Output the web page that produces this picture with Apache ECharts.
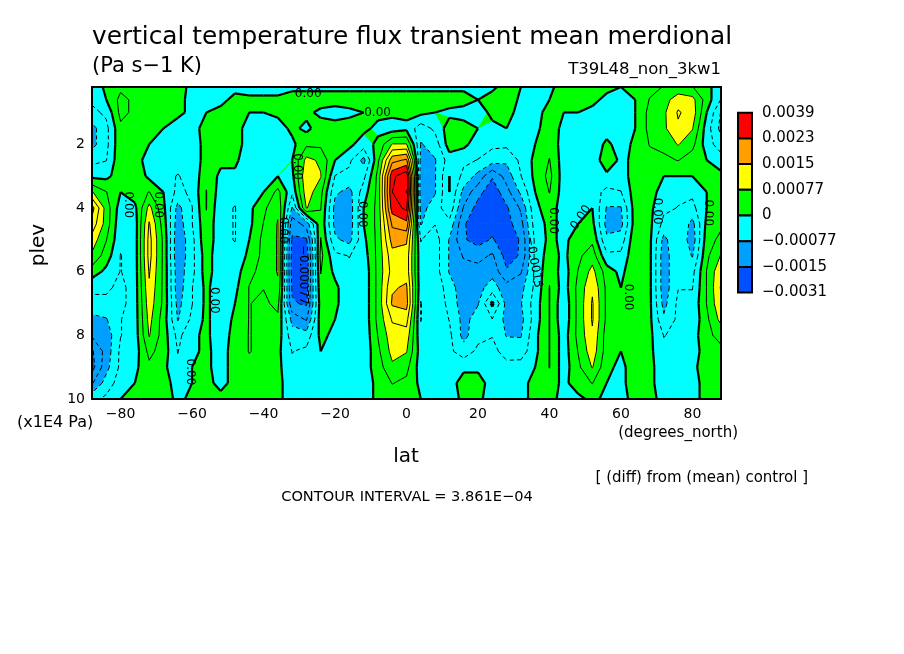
<!DOCTYPE html>
<html lang="en">
<head>
<meta charset="UTF-8">
<title>vertical temperature flux transient mean merdional</title>
<script src="https://cdn.jsdelivr.net/npm/echarts@6.0.0/dist/echarts.min.js"></script>
<style>
  html, body { margin: 0; padding: 0; background: #fff; }
  #main { width: 904px; height: 654px; }
</style>
</head>
<body>
<div id="main"></div>
<script>
// grid nodes
const lats = [-88,-84,-80,-76,-72,-68,-64,-60,-56,-52,-48,-44,-40,-36,-32,-28,-24,-20,-16,-12,-8,-4,
              0,4,8,12,16,20,24,28,32,36,40,44,48,52,56,60,64,68,72,76,80,84,88];
const plevs = [0.2,0.6,1,1.5,2,2.5,3,3.5,4,4.5,5,5.5,6,6.5,7,7.5,8,8.5,9,9.5,10];

// flux in 1E-4 Pa s-1 K, one column per latitude, values top (plev 0.2) to bottom (plev 10)
const fluxCols = [
  [-3,-3,-5,-9,-9,-5,-1,8,17,14,10,7,2,-3,-5,-9,-11,-16,-17,-12,-5],   // -88
  [1,0,-3,-5,-5,-4,-1,4,6,6,4,2,-1,-3,-5,-8,-10,-10,-9,-6,-3],         // -84
  [3,5,5,3,3,3,2,0,-2,-3,-3,-4,-4,-5,-5,-4,-4,-3,-3,-2,0],             // -80
  [3,3,3,2,2,2,3,2,-1,-2,-2,-2,-2,-2,-2,-2,-2,-2,-1,0,1],              // -76
  [3,3,3,2,0,-2,-1,4,9,12,13,13,12,11,10,9,8,5,3,2,2],                 // -72
  [3,3,3,0,-2,-3,-3,0,1,2,3,3,3,3,3,2,2,2,1,2,2],                      // -68
  [3,2,1,-2,-3,-3,-4,-5,-9,-10,-11,-11,-10,-10,-9,-8,-5,-4,-3,-2,-1],  // -64
  [-2,-2,-1,-2,-3,-3,-3,-3,-4,-4,-5,-5,-5,-4,-4,-3,-1,-1,0,0,1],       // -60
  [-2,-3,0,2,2,2,3,4,4,3,3,2,2,1,1,1,1,1,1,1,2],                       // -56
  [-2,-1,1,2,2,1,-1,-2,-3,-3,-3,-3,-3,-3,-3,-3,-3,-2,-2,-1,1],         // -52
  [-1,1,2,2,2,1,-1,-3,-4,-4,-4,-3,-2,-1,0,1,2,2,2,1,2],                // -48
  [-2,1,0,-2,-2,-3,-3,-2,-1,-1,0,1,3,4,4,4,4,4,3,2,2],                 // -44
  [-2,1,0,-2,-3,-3,-2,0,3,4,5,5,5,4,3,3,3,3,2,2,1],                    // -40
  [-2,1,1,-2,-3,-2,0,5,7,8,8,8,8,7,5,3,2,1,1,1,1],                     // -36
  [-1,2,2,1,-1,0,-1,-3,-8,-14,-16,-17,-17,-16,-15,-9,-6,-4,-3,-2,-2],  // -32
  [-1,2,1,-1,3,9,11,10,8,-10,-16,-18,-18,-17,-16,-12,-6,-3,-1,-1,-1],  // -28
  [-1,2,-1,2,3,7,8,5,4,3,4,5,4,3,2,2,1,0,-1,-2,-2],                    // -24
  [-1,2,-2,2,2,0,-4,-7,-9,-9,-7,-3,-1,1,1,0,-1,-2,-3,-3,-3],           // -20
  [-1,2,-1,2,1,-3,-5,-9,-10,-10,-9,-4,-3,-3,-3,-2,-2,-3,-3,-2,-2],     // -16
  [-1,2,0,1,-2,-9,-5,-2,0,0,-1,-2,-3,-3,-3,-3,-3,-3,-2,-2,-2],         // -12
  [-1,2,1,-1,1,3,5,5,5,5,5,5,5,5,5,5,4,3,2,1,1],                       // -8
  [-1,2,1,-2,8,18,26,27,25,20,17,14,13,15,16,12,10,9,7,4,2],           // -4
  [-1,2,1,-1,8,20,30,31,28,22,16,14,14,16,17,13,10,8,5,3,1],           // 0
  [-1,2,1,-6,-8,-9,-10,-10,-9,-8,-4,-3,-3,-3,-4,-4,-3,-2,-2,-1,0],     // 4
  [-1,2,0,-3,-6,-8,-8,-8,-6,-4,-2,-2,-2,-1,-1,-1,-3,-2,-2,-1,-1],      // 8
  [-1,2,-1,2,2,-2,0,0,-1,-5,-8,-8,-8,-6,-5,-4,-3,-3,-2,-2,-2],         // 12
  [-1,2,-2,2,1,-3,-5,-9,-12,-15,-15,-12,-10,-10,-10,-9,-9,-6,-1,2,1],  // 16
  [-1,0,-2,0,-2,-4,-9,-14,-17,-18,-17,-13,-10,-9,-8,-6,-5,-3,-1,2,1],  // 20
  [-1,2,1,-1,-3,-6,-15,-18,-18,-17,-15,-11,-9,-6,1,-4,-4,-3,-3,-2,-2], // 24
  [2,3,2,0,-3,-7,-10,-13,-16,-17,-18,-17,-15,-10,-9,-9,-8,-5,-3,-2,-2],// 28
  [0,-1,-2,-2,-2,-3,-4,-7,-11,-13,-15,-15,-12,-9,-8,-9,-8,-6,-2,-1,-1],// 32
  [-2,-2,-1,-1,0,1,1,0,-1,-2,-3,-3,-3,-3,-2,-2,-1,-1,0,1,1],           // 36
  [-1,0,1,2,3,4,5,4,2,1,1,2,3,4,4,4,4,4,4,2,1],                        // 40
  [2,1,0,-1,-2,-2,-2,-2,-2,-1,-1,-1,-2,-2,-3,-3,-2,-2,-2,-1,-1],       // 44
  [2,1,0,-2,-2,-2,-3,-2,-1,0,2,3,4,5,5,5,5,4,3,2,-1],                  // 48
  [2,1,-1,-2,-3,-3,-3,-2,0,1,3,6,9,11,12,12,11,10,8,4,1],              // 52
  [1,-1,-2,-2,1,3,-1,-5,-8,-9,-7,-3,2,3,3,3,2,2,1,0,-1],               // 56
  [0,-2,-3,-3,-2,-1,-2,-4,-8,-9,-6,-3,-1,0,1,1,1,0,-1,-1,-2],          // 60
  [1,0,0,0,1,1,2,2,2,2,3,3,3,3,3,3,3,3,2,2,2],                         // 64
  [3,4,5,5,4,3,3,2,1,1,1,1,1,1,1,1,1,1,1,1,1],                         // 68
  [4,6,7,7,5,3,0,-2,-3,-5,-9,-10,-10,-10,-9,-7,-4,-3,-2,-2,-1],        // 72
  [5,10,12,11,8,4,0,-3,-4,-4,-4,-4,-4,-4,-3,-3,-3,-2,-2,-1,-1],        // 76
  [4,9,10,8,5,2,0,-3,-5,-9,-10,-8,-5,-4,-3,-3,-2,-2,-1,-1,-1],         // 80
  [1,2,0,-2,-2,0,1,0,0,1,2,3,4,4,4,3,3,2,2,1,1],                       // 84
  [-2,-4,-8,-9,-6,-2,1,2,3,3,5,8,11,12,11,9,5,3,2,1,0]                 // 88
];

// contour labels as seen on the plot: lat, plev, text, angle (deg)
const contourLabels = [
  [-27.5, 0.41, '0.00', 0],
  [-8.1, 1.0, '0.00', 0],
  [-78, 3.9, '0.00', -90],
  [-69.5, 3.9, '0.00', -90],
  [-53.8, 6.9, '0.00', -90],
  [-60.6, 9.15, '0.00', -90],
  [-34.5, 4.7, '0.00', -90],
  [-30.6, 2.7, '0.00', -90],
  [-28.9, 6.1, '\u22120.00077', -90],
  [-12.3, 4.2, '0.00', -90],
  [35.6, 5.7, '\u22120.0015', -80],
  [41, 4.4, '0.00', -90],
  [48.8, 4.3, '0.00', 56],
  [62, 6.8, '0.00', -90],
  [70, 4.1, '0.00', -90],
  [84.4, 4.15, '0.00', -90]
];

const ci = 3.861;                       // contour interval, 1E-4 units
const fillSteps = [-4, -2, 0, 2, 4, 6]; // shading boundaries in contour intervals
const fillColors = ['#0050ff', '#00a0ff', '#00ffff', '#00ff00', '#ffff00', '#ffa000', '#ff0000'];
const lineSteps = [-5, -4, -3, -2, -1, 0, 1, 2, 3, 4, 5, 6, 7, 8];
const barLabels = ['0.0039', '0.0023', '0.0015', '0.00077', '0', '\u22120.00077', '\u22120.0015', '\u22120.0031'];
const latTicks = [-80, -60, -40, -20, 0, 20, 40, 60, 80];
const plevTicks = [2, 4, 6, 8, 10];

const FONT = '"DejaVu Sans", "Liberation Sans", sans-serif';

// one item per cell and shading band, band by band so seams stay hidden
const cells = [];
const fillItems = [];
for (let i = 0; i < lats.length - 1; i++) {
  for (let j = 0; j < plevs.length - 1; j++) {
    cells.push([lats[i], plevs[j], i, j]);
  }
}
for (let n = 0; n < fillColors.length; n++) {
  cells.forEach(c => fillItems.push([c[0], c[1], c[2], c[3], n]));
}

function cellCorners(api, i, j) {
  return {
    v: [fluxCols[i][j], fluxCols[i + 1][j], fluxCols[i + 1][j + 1], fluxCols[i][j + 1]],
    p: [api.coord([lats[i], plevs[j]]), api.coord([lats[i + 1], plevs[j]]),
        api.coord([lats[i + 1], plevs[j + 1]]), api.coord([lats[i], plevs[j + 1]])]
  };
}

function lerp(a, b, f) {
  return [a[0] + (b[0] - a[0]) * f, a[1] + (b[1] - a[1]) * f];
}

function clipAbove(p, v, t) {
  const out = [];
  for (let k = 0; k < 4; k++) {
    const b = (k + 1) % 4;
    const ia = v[k] >= t, ib = v[b] >= t;
    if (ia) out.push(p[k]);
    if (ia !== ib) out.push(lerp(p[k], p[b], (t - v[k]) / (v[b] - v[k])));
  }
  return out;
}

function renderFill(params, api) {
  const i = api.value(2), j = api.value(3), n = api.value(4);
  const c = cellCorners(api, i, j);
  const pts = n === 0 ? c.p : clipAbove(c.p, c.v, fillSteps[n - 1] * ci);
  if (pts.length < 3) return null;
  return {
    type: 'polygon',
    shape: { points: pts },
    style: { fill: fillColors[n], stroke: fillColors[n], lineWidth: 0.8 },
    silent: true
  };
}

function renderLines(params, api) {
  const i = api.value(2), j = api.value(3);
  const c = cellCorners(api, i, j);
  const children = [];
  lineSteps.forEach(s => {
    const t = s * ci;
    const above = c.v.map(x => x >= t);
    const cross = [];
    for (let k = 0; k < 4; k++) {
      const b = (k + 1) % 4;
      cross.push(above[k] !== above[b] ? lerp(c.p[k], c.p[b], (t - c.v[k]) / (c.v[b] - c.v[k])) : null);
    }
    const hits = [];
    cross.forEach((q, k) => { if (q) hits.push(k); });
    let segs = [];
    if (hits.length === 2) {
      segs.push([cross[hits[0]], cross[hits[1]]]);
    } else if (hits.length === 4) {
      const centre = (c.v[0] + c.v[1] + c.v[2] + c.v[3]) / 4 >= t;
      if (centre === above[0]) segs = [[cross[0], cross[1]], [cross[2], cross[3]]];
      else segs = [[cross[3], cross[0]], [cross[1], cross[2]]];
    }
    segs.forEach(sg => {
      children.push({
        type: 'line',
        shape: { x1: sg[0][0], y1: sg[0][1], x2: sg[1][0], y2: sg[1][1] },
        style: {
          stroke: '#000',
          lineWidth: s === 0 ? 2.2 : 1,
          lineDash: s < 0 ? [4, 3] : null
        },
        silent: true
      });
    });
  });
  return { type: 'group', children };
}

function renderLabel(params, api) {
  const lab = contourLabels[params.dataIndex];
  const pt = api.coord([lab[0], lab[1]]);
  return {
    type: 'text',
    x: pt[0], y: pt[1],
    rotation: lab[3] * Math.PI / 180,
    style: {
      text: lab[2], fill: '#000', font: '12px ' + FONT,
      align: 'center', verticalAlign: 'middle',
      textAlign: 'center', textVerticalAlign: 'middle'
    },
    silent: true
  };
}

function txt(x, y, text, size, align, rotation) {
  return {
    type: 'text', x, y, rotation: rotation || 0, z: 100,
    style: {
      text, fill: '#000', font: size + 'px ' + FONT,
      textAlign: align || 'left', textVerticalAlign: 'middle',
      align: align || 'left', verticalAlign: 'middle'
    }
  };
}

const barTop = 112.7, barH = 25.7;
const graphics = [
  txt(92, 38, 'vertical temperature flux transient mean merdional', 24.8),
  txt(92, 67, '(Pa s\u22121 K)', 21),
  txt(721, 70, 'T39L48_non_3kw1', 16.5, 'right'),
  txt(17, 423, '(x1E4 Pa)', 16),
  txt(738, 433, '(degrees_north)', 15, 'right'),
  txt(406, 457, 'lat', 20, 'center'),
  txt(39, 245, 'plev', 20, 'center', Math.PI / 2),
  txt(808, 478, '[ (diff) from (mean) control ]', 15, 'right'),
  txt(407, 497, 'CONTOUR INTERVAL = 3.861E\u221204', 14.6, 'center')
];
fillColors.slice().reverse().forEach((col, k) => {
  graphics.push({
    type: 'rect', z: 100,
    shape: { x: 738, y: barTop + k * barH, width: 14, height: barH },
    style: { fill: col, stroke: '#000', lineWidth: 2 }
  });
});
barLabels.forEach((lab, k) => {
  graphics.push(txt(762, barTop + k * barH, lab, 15));
});

const axisCommon = {
  type: 'value',
  z: 10,
  splitLine: { show: false },
  axisTick: { show: false },
  axisLine: { show: true, onZero: false, lineStyle: { color: '#000', width: 2 } }
};

const chart = echarts.init(document.getElementById('main'), null, { renderer: 'canvas' });
chart.setOption({
  animation: false,
  backgroundColor: '#fff',
  grid: { left: 92, top: 87, right: 183, bottom: 255 },
  xAxis: [
    Object.assign({}, axisCommon, {
      min: -88, max: 88, position: 'bottom',
      axisLabel: {
        customValues: latTicks, color: '#000', fontSize: 14, fontFamily: FONT, margin: 8,
        formatter: v => (v < 0 ? '\u2212' + (-v) : String(v))
      }
    }),
    Object.assign({}, axisCommon, {
      min: -88, max: 88, position: 'top', axisLabel: { show: false }
    })
  ],
  yAxis: [
    Object.assign({}, axisCommon, {
      min: 0.2, max: 10, inverse: true, position: 'left',
      axisLabel: { customValues: plevTicks, color: '#000', fontSize: 14, fontFamily: FONT, margin: 7 }
    }),
    Object.assign({}, axisCommon, {
      min: 0.2, max: 10, inverse: true, position: 'right', axisLabel: { show: false }
    })
  ],
  series: [
    {
      type: 'custom', name: 'fill', data: fillItems, z: 2,
      encode: { x: 0, y: 1 }, renderItem: renderFill, silent: true
    },
    {
      type: 'custom', name: 'contours', data: cells, z: 3,
      encode: { x: 0, y: 1 }, renderItem: renderLines, silent: true
    },
    {
      type: 'custom', name: 'labels', data: contourLabels.map(l => [l[0], l[1]]), z: 4,
      encode: { x: 0, y: 1 }, renderItem: renderLabel, silent: true
    }
  ],
  graphic: graphics
});
</script>
</body>
</html>
